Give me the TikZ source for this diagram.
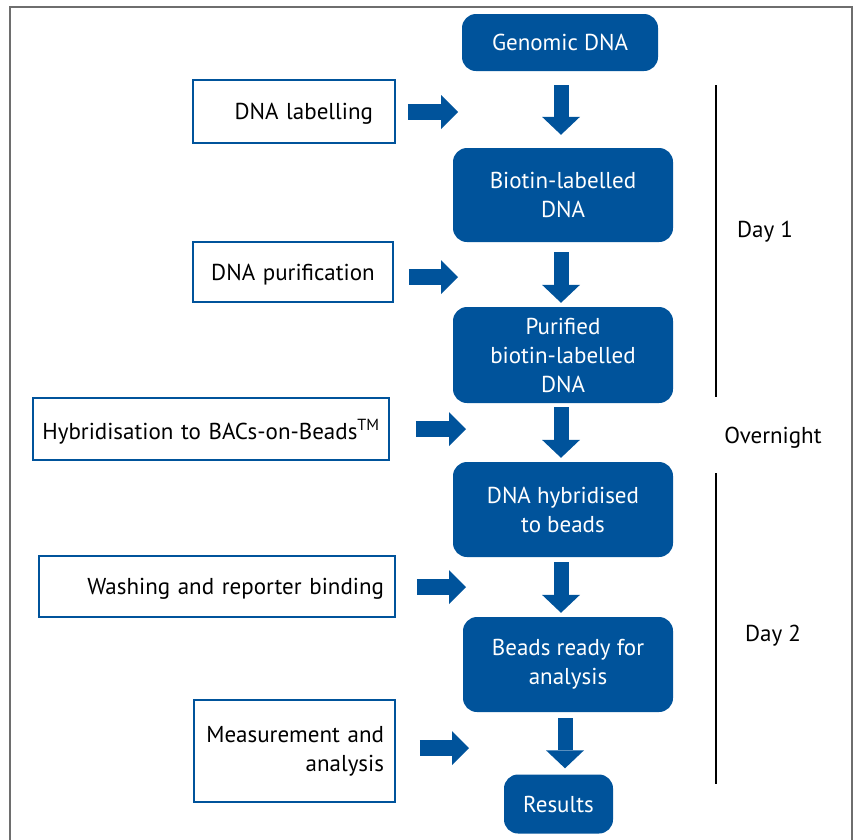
\documentclass[tikz,border=0pt]{standalone}
\usepackage{fontspec}
\setmainfont{PT Sans}
\usetikzlibrary{arrows.meta, positioning}
\definecolor{stageblue}{RGB}{0,83,155}
\definecolor{framegray}{RGB}{110,110,110}

\begin{document}
\begin{tikzpicture}[x=1pt, y=-1pt,
    font=\fontsize{23}{29}\selectfont]
    \useasboundingbox (0,0) rectangle (856,839);
    \draw[framegray, line width=1.5pt] (10,845) -- (10,7) -- (852,7) -- (852,845);

    % Add the stages
        \node[rectangle,
              rounded corners=14pt,
              fill=stageblue,
              text=white,
              text depth=0pt,
              align=center,
              minimum width=196pt,
              minimum height=57pt] (gen) at (560,42.5) {Genomic DNA};
        \node[rectangle,
              rounded corners=14pt,
              fill=stageblue,
              text=white,
              align=center,
              minimum width=220pt,
              minimum height=94pt] (bio) at (563,195) {Biotin-labelled\\DNA};
        \node[rectangle,
              rounded corners=14pt,
              fill=stageblue,
              text=white,
              align=center,
              minimum width=220pt,
              minimum height=96pt] (pur) at (563,355) {Purified\\biotin-labelled\\DNA};
        \node[rectangle,
              rounded corners=14pt,
              fill=stageblue,
              text=white,
              align=center,
              minimum width=220pt,
              minimum height=95pt] (hyb) at (563,509.5) {DNA hybridised\\to beads};
        \node[rectangle,
              rounded corners=14pt,
              fill=stageblue,
              text=white,
              align=center,
              minimum width=210pt,
              minimum height=95pt] (beads) at (568,664.5) {Beads ready for\\analysis};
        \node[rectangle,
              rounded corners=14pt,
              fill=stageblue,
              text=white,
              text depth=0pt,
              align=center,
              minimum width=109pt,
              minimum height=59pt] (res) at (558.5,804) {Results};

    % Add the steps
        \node[rectangle,
              draw=stageblue,
              line width=1.6pt,
              text depth=0pt,
              align=right,
              inner xsep=22pt,
              text width=158pt,
              minimum height=63pt] (lab) at (294,111.5) {DNA labelling};
        \node[rectangle,
              draw=stageblue,
              line width=1.6pt,
              text depth=0pt,
              align=center,
              inner xsep=12pt,
              text width=176pt,
              minimum height=60pt] (purif) at (293,272) {DNA purification};
        \node[rectangle,
              draw=stageblue,
              line width=1.6pt,
              text depth=0pt,
              align=center,
              inner xsep=5pt,
              text width=346pt,
              minimum height=62pt] (hybstep) at (211,429) {Hybridisation to BACs-on-Beads\textsuperscript{TM}};
        \node[rectangle,
              draw=stageblue,
              line width=1.6pt,
              text depth=0pt,
              align=right,
              inner xsep=11pt,
              text width=334pt,
              minimum height=61pt] (wash) at (217,586.5) {Washing and reporter binding};
        \node[rectangle,
              draw=stageblue,
              line width=1.6pt,
              align=right,
              inner xsep=11pt,
              text width=179pt,
              minimum height=102pt] (meas) at (294.5,751) {Measurement and\\analysis};

    % Add the days
        \node[text depth=0pt] (day1) at (765,229) {Day 1};
        \node[text depth=0pt] (night) at (773,435) {Overnight};
        \node[text depth=0pt] (day2) at (773,633) {Day 2};

        \coordinate (col) at (561,0);
        \coordinate (col2) at (565,0);
        \coordinate (in1) at (458,112);
        \coordinate (in2) at (458,277);
        \coordinate (in3) at (466,429);
        \coordinate (in4) at (466,587);
        \coordinate (in5) at (469,748);
        \coordinate (d1a) at (716,85);
        \coordinate (d1b) at (716,397);
        \coordinate (d2a) at (716,473);
        \coordinate (d2b) at (716,784);

 \path[every edge/.style={draw,
       color=stageblue,
       line width=15pt,
       -{Triangle[width=38pt,length=18pt,line width=0pt]}}]

            (gen.south -| col) edge[shorten <=14pt, shorten >=13pt] (bio.north -| col)
            (bio.south -| col) edge[shorten <=10pt, shorten >=4pt] (pur.north -| col)
            (pur.south -| col) edge[shorten <=4pt, shorten >=4pt] (hyb.north -| col)
            (hyb.south -| col) edge[shorten <=5pt, shorten >=4pt] (beads.north -| col)
            (beads.south -| col2) edge[shorten <=6pt, shorten >=6pt] (res.north -| col2)
            ;

 \path[every edge/.style={draw,
       color=stageblue,
       line width=16pt,
       -{Triangle[width=34pt,length=17pt,line width=0pt]}}]

            (lab.east |- in1) edge[shorten <=12pt] (in1)
            (purif.east |- in2) edge[shorten <=15pt] (in2)
            (hybstep.east |- in3) edge[shorten <=26pt] (in3)
            (wash.east |- in4) edge[shorten <=21pt] (in4)
            (meas.east |- in5) edge[shorten <=24pt] (in5)
            ;

 \draw[line width=1.5pt] (d1a) -- (d1b);
 \draw[line width=1.5pt] (d2a) -- (d2b);

    \end{tikzpicture}
\end{document}
